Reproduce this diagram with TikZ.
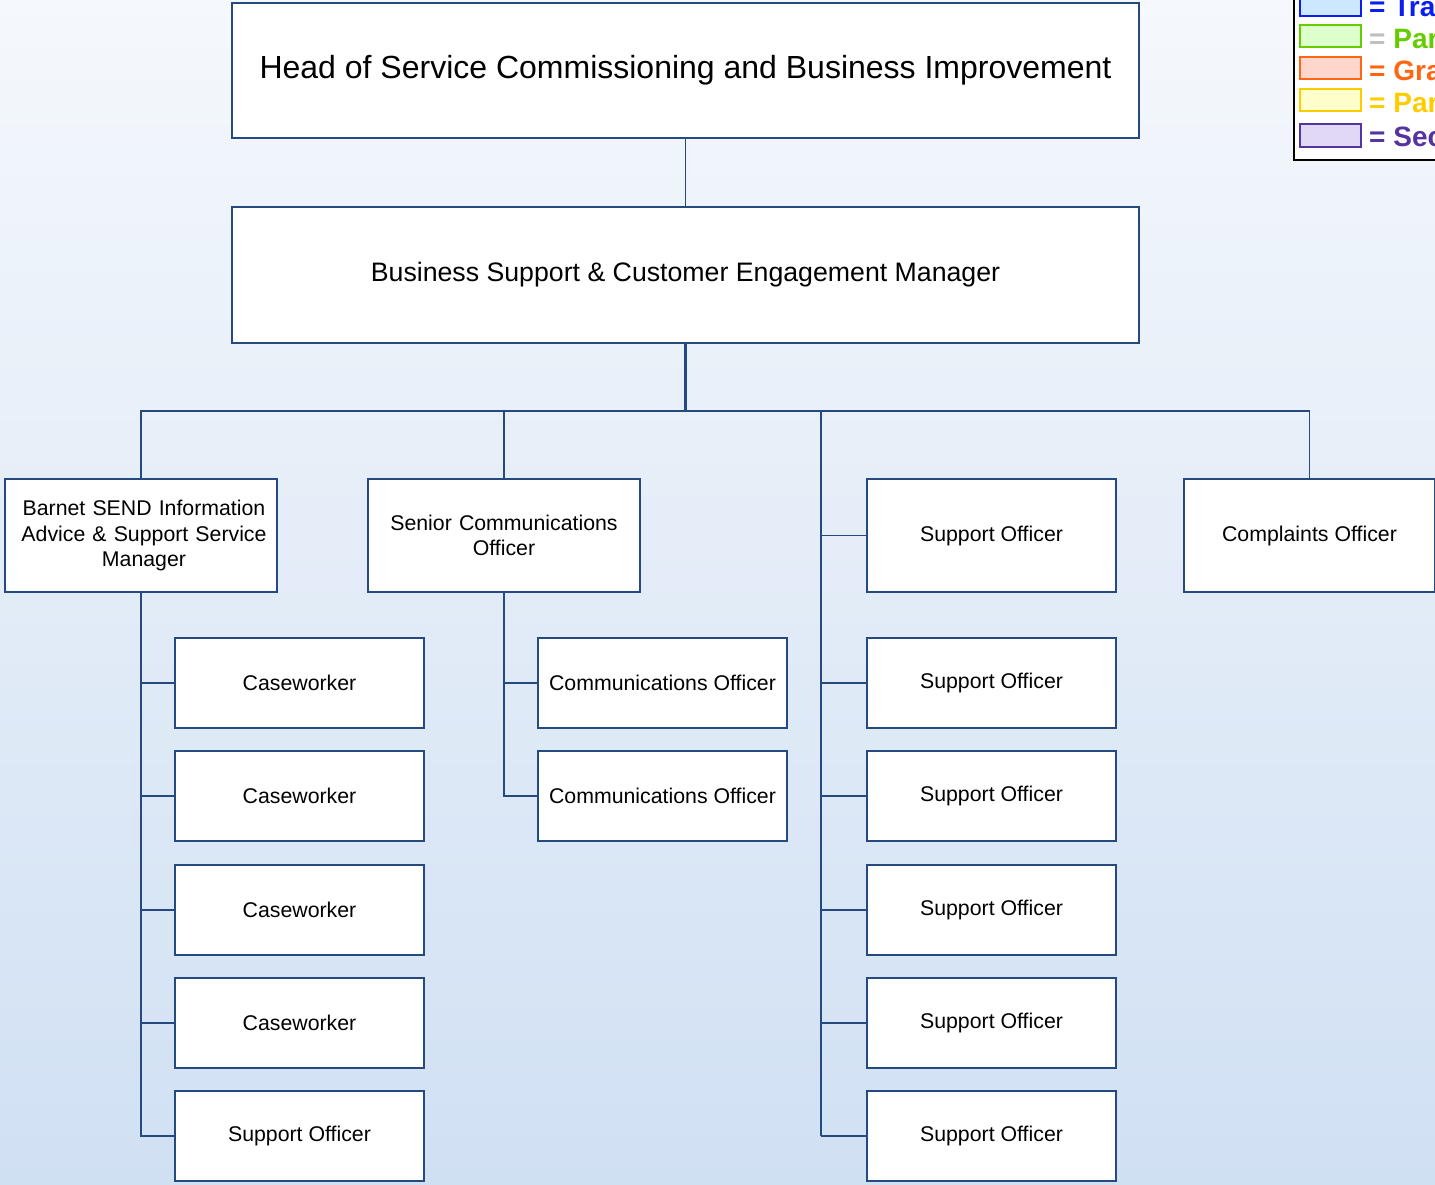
\documentclass[tikz,border=0pt]{standalone}
\usepackage{fontspec}
\setmainfont{Liberation Sans}
\definecolor{lineblue}{HTML}{244A80}
\definecolor{bgtop}{HTML}{F5F8FC}
\definecolor{bgbot}{HTML}{D0E0F3}
\definecolor{lgblue}{HTML}{0A1EF0}
\definecolor{lgbluef}{HTML}{CCE8FF}
\definecolor{lggreen}{HTML}{66CC00}
\definecolor{lggreenf}{HTML}{DDFFCC}
\definecolor{lgorange}{HTML}{FF6611}
\definecolor{lgorangef}{HTML}{FFD6CC}
\definecolor{lgyellow}{HTML}{FFCC00}
\definecolor{lgyellowf}{HTML}{FFFFCC}
\definecolor{lgpurple}{HTML}{5533A0}
\definecolor{lgpurplef}{HTML}{E0D8F4}
\tikzset{
  orgbox/.style={draw=lineblue, fill=white, line width=1.6pt, inner sep=0pt, align=center},
  conn/.style={draw=lineblue, line width=1.8pt},
  thickconn/.style={draw=lineblue, line width=2.4pt},
  rowone/.style={orgbox, minimum height=113pt, font=\fontsize{21.3}{25.5}\selectfont},
  lower/.style={orgbox, minimum width=249pt, minimum height=90pt, font=\fontsize{21.3}{25.5}\selectfont},
  swatch/.style={line width=2pt},
  lgtext/.style={anchor=west, inner sep=0pt, font=\fontsize{28}{30}\selectfont\bfseries},
}
\begin{document}
\begin{tikzpicture}[x=1pt,y=-1pt]
\useasboundingbox (0,0) rectangle (1435,1184);
\clip (0,0) rectangle (1435,1184);
\shade[top color=bgtop, bottom color=bgbot] (0,0) rectangle (1435,1184);

% top boxes
\node[orgbox, minimum width=907pt, minimum height=135pt, font=\fontsize{32}{36}\selectfont] (head) at (685.5,70.5) {Head of Service Commissioning and Business Improvement};
\node[orgbox, minimum width=907pt, minimum height=136pt, font=\fontsize{26.7}{30}\selectfont] (bsm) at (685.5,275) {Business Support \& Customer Engagement Manager};

% row one
\node[rowone, minimum width=272pt, text width=262pt] (barnet) at (141,535.5) {\hspace*{6pt}Barnet SEND Information\\\hspace*{6pt}Advice \& Support Service\\\hspace*{6pt}Manager};
\node[rowone, minimum width=272pt, text width=262pt] (senior) at (504,535.5) {Senior Communications\\Officer};
\node[rowone, minimum width=249pt] (so0) at (991.5,535.5) {Support Officer};
\node[rowone, minimum width=251pt] (compl) at (1309.5,535.5) {Complaints Officer};

% Barnet column
\node[lower] (cw1) at (299.5,683) {Caseworker};
\node[lower] (cw2) at (299.5,796) {Caseworker};
\node[lower] (cw3) at (299.5,910) {Caseworker};
\node[lower] (cw4) at (299.5,1023) {Caseworker};
\node[lower] (bso) at (299.5,1136) {Support Officer};

% Communications column
\node[lower] (co1) at (662.5,683) {Communications Officer};
\node[lower] (co2) at (662.5,796) {Communications Officer};

% Support officer column
\node[lower] (so1) at (991.5,683) {Support Officer};
\node[lower] (so2) at (991.5,796) {Support Officer};
\node[lower] (so3) at (991.5,910) {Support Officer};
\node[lower] (so4) at (991.5,1023) {Support Officer};
\node[lower] (so5) at (991.5,1136) {Support Officer};

% connectors
\coordinate (busL) at (141,411);
\coordinate (colTop) at (821,411);
\draw[conn] (head.south) -- (bsm.north);
\draw[thickconn] (bsm.south) -- (bsm.south |- busL);
\draw[conn] (barnet.north) -- (barnet.north |- busL) -- (compl.north |- busL) -- (compl.north);
\draw[conn] (senior.north) -- (senior.north |- busL);

\draw[conn] (barnet.south) |- (bso.west);
\foreach \n in {cw1,cw2,cw3,cw4} \draw[conn] (barnet.south |- \n.west) -- (\n.west);

\draw[conn] (senior.south) |- (co2.west);
\draw[conn] (senior.south |- co1.west) -- (co1.west);

\draw[thickconn] (colTop) -- (colTop |- so5.west);
\foreach \n in {so0,so1,so2,so3,so4,so5} \draw[conn] (colTop |- \n.west) -- (\n.west);

% legend
\draw[black, line width=1.5pt, fill=white] (1294,-5) rectangle (1450,160);
\draw[swatch, draw=lgblue, fill=lgbluef] (1300,-4) rectangle (1361,16);
\draw[swatch, draw=lggreen, fill=lggreenf] (1300,25) rectangle (1361,47);
\draw[swatch, draw=lgorange, fill=lgorangef] (1300,57) rectangle (1361,79);
\draw[swatch, draw=lgyellow, fill=lgyellowf] (1300,89) rectangle (1361,111);
\draw[swatch, draw=lgpurple, fill=lgpurplef] (1300,124) rectangle (1361,147);
\node[lgtext, text=lgblue] (lg1) at (1369,7) {= Tra};
\node[lgtext, text=lggreen] (lg2) at (1369,39) {\textcolor{black!25}{=} Par};
\node[lgtext, text=lgorange] (lg3) at (1369,71) {= Gra};
\node[lgtext, text=lgyellow] (lg4) at (1369,103) {= Par};
\node[lgtext, text=lgpurple] (lg5) at (1369,137) {= Sec};
\end{tikzpicture}
\end{document}
